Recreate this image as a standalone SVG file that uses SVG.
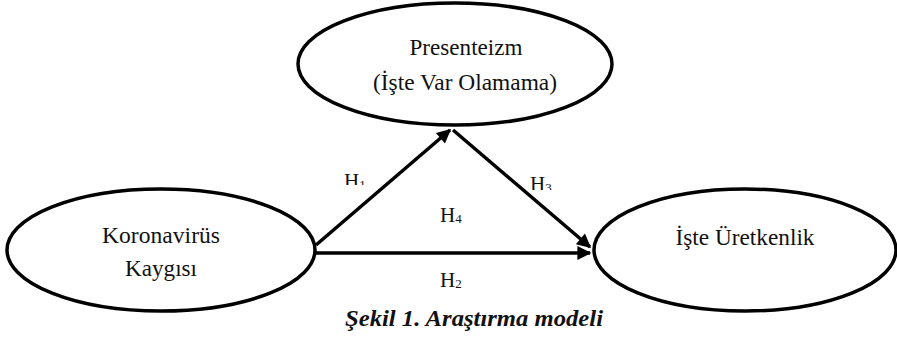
<svg xmlns="http://www.w3.org/2000/svg" width="897" height="340" viewBox="0 0 897 340">
<style>
.node{fill:#fff;stroke:#000;stroke-width:3.5}
.lbl{font-family:"Liberation Serif","DejaVu Serif",serif;font-size:22.5px;fill:#111;text-anchor:middle}
.h{font-family:"Liberation Serif","DejaVu Serif",serif;font-size:21px;fill:#111}
.sub{font-size:13px}
.edge{stroke:#000;stroke-width:3.5;fill:none}
.cap{font-family:"Liberation Serif","DejaVu Serif",serif;font-size:23px;font-weight:bold;font-style:italic;fill:#111;text-anchor:middle}
</style>
<defs>
<marker id="arr" viewBox="0 0 10 10" refX="9" refY="5" markerWidth="4.6" markerHeight="4" markerUnits="strokeWidth" orient="auto">
<path d="M0,0 L10,5 L0,10 Z" fill="#000"/>
</marker>
<clipPath id="c1"><rect x="330" y="160" width="60" height="25"/></clipPath>
<clipPath id="c3"><rect x="515" y="160" width="60" height="30"/></clipPath>
</defs>
<g id="n-presenteizm">
<ellipse class="node" cx="455" cy="64" rx="157" ry="61"/>
<text class="lbl" x="466" y="55" textLength="113" lengthAdjust="spacingAndGlyphs">Presenteizm</text>
<text class="lbl" x="465" y="90" textLength="184" lengthAdjust="spacingAndGlyphs">(İşte Var Olamama)</text>
</g>
<g id="n-koronavirus">
<ellipse class="node" cx="161" cy="250" rx="154" ry="61"/>
<text class="lbl" x="161" y="243" textLength="118" lengthAdjust="spacingAndGlyphs">Koronavirüs</text>
<text class="lbl" x="161" y="276" textLength="72" lengthAdjust="spacingAndGlyphs">Kaygısı</text>
</g>
<g id="n-uretkenlik">
<ellipse class="node" cx="745" cy="250" rx="151" ry="61"/>
<text class="lbl" x="745" y="245" textLength="139" lengthAdjust="spacingAndGlyphs">İşte Üretkenlik</text>
</g>
<g id="connectors">
<line class="edge" x1="316" y1="245" x2="450" y2="130" marker-end="url(#arr)"/>
<line class="edge" x1="453" y1="130" x2="590" y2="247" marker-end="url(#arr)"/>
<line class="edge" x1="316" y1="253" x2="590" y2="253" marker-end="url(#arr)"/>
<text class="h" x="344" y="188" clip-path="url(#c1)">H<tspan class="sub" dy="1">1</tspan></text>
<text class="h" x="530" y="191" clip-path="url(#c3)">H<tspan class="sub" dy="1">3</tspan></text>
<text class="h" x="440" y="222">H<tspan class="sub" dy="1">4</tspan></text>
<text class="h" x="440" y="287">H<tspan class="sub" dy="1">2</tspan></text>
</g>
<text class="cap" x="474" y="326" textLength="258" lengthAdjust="spacingAndGlyphs">Şekil 1. Araştırma modeli</text>
</svg>
